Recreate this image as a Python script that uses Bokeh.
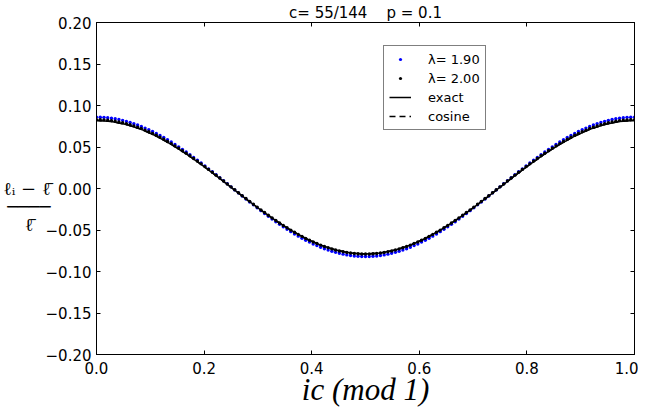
from bokeh.plotting import figure
from bokeh.models import Range1d, LinearAxis, FixedTicker, CustomJSTickFormatter
from bokeh.embed import file_html
from bokeh.resources import INLINE

# ---------------- data ----------------
c_num, c_den = 55, 144
x_dots = [k / c_den for k in range(c_den + 1)]

lam_190 = [0.0860, 0.0859, 0.0857, 0.0853, 0.0847, 0.0840, 0.0831, 0.0821, 0.0809, 0.0796,
           0.0781, 0.0765, 0.0748, 0.0728, 0.0708, 0.0686, 0.0664, 0.0639, 0.0614, 0.0588,
           0.0560, 0.0531, 0.0502, 0.0471, 0.0440, 0.0408, 0.0375, 0.0342, 0.0307, 0.0273,
           0.0237, 0.0202, 0.0166, 0.0130, 0.0093, 0.0057, 0.0020,
           -0.0017, -0.0053, -0.0090, -0.0126, -0.0162, -0.0197, -0.0233, -0.0267, -0.0302, -0.0335,
           -0.0368, -0.0400, -0.0431, -0.0462, -0.0491, -0.0520, -0.0548, -0.0574, -0.0599, -0.0624,
           -0.0646, -0.0668, -0.0688, -0.0708, -0.0725, -0.0741, -0.0756, -0.0769, -0.0781, -0.0791,
           -0.0800, -0.0807, -0.0813, -0.0817, -0.0819, -0.0820,
           -0.0819, -0.0817, -0.0813, -0.0807, -0.0800, -0.0791, -0.0781, -0.0769, -0.0756, -0.0741,
           -0.0725, -0.0708, -0.0688, -0.0668, -0.0646, -0.0624, -0.0599, -0.0574, -0.0548, -0.0520,
           -0.0491, -0.0462, -0.0431, -0.0400, -0.0368, -0.0335, -0.0302, -0.0267, -0.0233, -0.0197,
           -0.0162, -0.0126, -0.0090, -0.0053, -0.0017, 0.0020,
           0.0057, 0.0093, 0.0130, 0.0166, 0.0202, 0.0237, 0.0273, 0.0307, 0.0342, 0.0375,
           0.0408, 0.0440, 0.0471, 0.0502, 0.0531, 0.0560, 0.0588, 0.0614, 0.0639, 0.0664,
           0.0686, 0.0708, 0.0728, 0.0748, 0.0765, 0.0781, 0.0796, 0.0809, 0.0821, 0.0831,
           0.0840, 0.0847, 0.0853, 0.0857, 0.0859, 0.0860]

lam_200 = [0.0830, 0.0829, 0.0827, 0.0823, 0.0818, 0.0811, 0.0802, 0.0793, 0.0781, 0.0768,
           0.0754, 0.0739, 0.0722, 0.0703, 0.0684, 0.0663, 0.0641, 0.0617, 0.0593, 0.0567,
           0.0541, 0.0513, 0.0485, 0.0455, 0.0425, 0.0394, 0.0362, 0.0330, 0.0297, 0.0264,
           0.0230, 0.0195, 0.0161, 0.0126, 0.0091, 0.0055, 0.0020,
           -0.0015, -0.0051, -0.0086, -0.0121, -0.0155, -0.0190, -0.0224, -0.0257, -0.0290, -0.0322,
           -0.0354, -0.0385, -0.0415, -0.0445, -0.0473, -0.0501, -0.0527, -0.0553, -0.0577, -0.0601,
           -0.0623, -0.0644, -0.0663, -0.0682, -0.0699, -0.0714, -0.0728, -0.0741, -0.0753, -0.0762,
           -0.0771, -0.0778, -0.0783, -0.0787, -0.0789, -0.0790,
           -0.0789, -0.0787, -0.0783, -0.0778, -0.0771, -0.0762, -0.0753, -0.0741, -0.0728, -0.0714,
           -0.0699, -0.0682, -0.0663, -0.0644, -0.0623, -0.0601, -0.0577, -0.0553, -0.0527, -0.0501,
           -0.0473, -0.0445, -0.0415, -0.0385, -0.0354, -0.0322, -0.0290, -0.0257, -0.0224, -0.0190,
           -0.0155, -0.0121, -0.0086, -0.0051, -0.0015, 0.0020,
           0.0055, 0.0091, 0.0126, 0.0161, 0.0195, 0.0230, 0.0264, 0.0297, 0.0330, 0.0362,
           0.0394, 0.0425, 0.0455, 0.0485, 0.0513, 0.0541, 0.0567, 0.0593, 0.0617, 0.0641,
           0.0663, 0.0684, 0.0703, 0.0722, 0.0739, 0.0754, 0.0768, 0.0781, 0.0793, 0.0802,
           0.0811, 0.0818, 0.0823, 0.0827, 0.0829, 0.0830]

x_line = [j / 36 for j in range(37)]
exact = [0.0820, 0.0808, 0.0771, 0.0712, 0.0632, 0.0532, 0.0418, 0.0290, 0.0155, 0.0015,
         -0.0125, -0.0260, -0.0388, -0.0502, -0.0602, -0.0682, -0.0741, -0.0778, -0.0790,
         -0.0778, -0.0741, -0.0682, -0.0602, -0.0502, -0.0388, -0.0260, -0.0125, 0.0015,
         0.0155, 0.0290, 0.0418, 0.0532, 0.0632, 0.0712, 0.0771, 0.0808, 0.0820]
cosine = [0.0820, 0.0808, 0.0771, 0.0712, 0.0632, 0.0532, 0.0418, 0.0290, 0.0155, 0.0015,
          -0.0125, -0.0260, -0.0388, -0.0502, -0.0602, -0.0682, -0.0741, -0.0778, -0.0790,
          -0.0778, -0.0741, -0.0682, -0.0602, -0.0502, -0.0388, -0.0260, -0.0125, 0.0015,
          0.0155, 0.0290, 0.0418, 0.0532, 0.0632, 0.0712, 0.0771, 0.0808, 0.0820]

x_ticks = [0.0, 0.2, 0.4, 0.6, 0.8, 1.0]
y_ticks = [-0.20, -0.15, -0.10, -0.05, 0.00, 0.05, 0.10, 0.15, 0.20]

NB = "\u00a0"
title_text = "c= %d/%d" % (c_num, c_den) + NB * 4 + "p" + NB + "=" + NB + "0.1"
legend_labels = ["\u03bb= 1.90", "\u03bb= 2.00", "exact", "cosine"]
x_title = "ic (mod 1)"
y_title = (NB + "\n" + NB + "\n\u2113\u1d62 \u2212 \u2113\u0304\n"
           "\u2500\u2500\u2500\u2500\n\u2113\u0304" + NB * 3)

# ---------------- figure ----------------
p = figure(width=638, height=409, output_backend="svg", toolbar_location=None,
           x_range=Range1d(0, 1), y_range=Range1d(-0.2, 0.2),
           min_border_left=88, min_border_right=4, min_border_top=0, min_border_bottom=0)
p.xgrid.visible = False
p.ygrid.visible = False
p.outline_line_color = "black"
p.outline_line_width = 1
p.background_fill_color = "white"

p.scatter(x_dots, lam_190, size=3.4, marker="circle", color="#0000ff", line_color=None,
          legend_label=legend_labels[0])
p.scatter(x_dots, lam_200, size=3.4, marker="circle", color="black", line_color=None,
          legend_label=legend_labels[1])
p.line(x_line, exact, line_color="black", line_width=1.5, legend_label=legend_labels[2])
p.line(x_line, cosine, line_color="black", line_width=1.5, line_dash="6 4",
       legend_label=legend_labels[3])

tick_font = "DejaVu Sans"


def style_axis(ax):
    ax.axis_line_color = "black"
    ax.axis_line_width = 1
    ax.major_tick_in = 4
    ax.major_tick_out = 0
    ax.minor_tick_in = 0
    ax.minor_tick_out = 0
    ax.major_tick_line_color = "black"
    ax.major_label_text_font = tick_font
    ax.major_label_text_font_size = "15px"
    ax.major_label_text_color = "black"


xa = p.xaxis[0]
xa.ticker = FixedTicker(ticks=x_ticks)
xa.formatter = CustomJSTickFormatter(code="return tick.toFixed(1).replace('-', '\u2212');")
xa.major_label_standoff = 7
style_axis(xa)
xa.axis_label = x_title
xa.axis_label_text_font = "Liberation Serif"
xa.axis_label_text_font_style = "italic"
xa.axis_label_text_font_size = "31px"
xa.axis_label_text_color = "black"
xa.axis_label_standoff = -5

ya = p.yaxis[0]
ya.ticker = FixedTicker(ticks=y_ticks)
ya.formatter = CustomJSTickFormatter(code="return tick.toFixed(2).replace('-', '\u2212');")
ya.major_label_standoff = 5
style_axis(ya)
ya.axis_label = y_title
ya.axis_label_text_font = "DejaVu Serif"
ya.axis_label_text_font_style = "normal"
ya.axis_label_text_font_size = "18px"
ya.axis_label_text_color = "black"
ya.axis_label_text_line_height = 0.85
ya.axis_label_standoff = -8
if "axis_label_orientation" in ya.properties():
    ya.axis_label_orientation = "horizontal"

for loc, tk in (("right", y_ticks), ("above", x_ticks)):
    ax = LinearAxis(ticker=FixedTicker(ticks=tk),
                    formatter=CustomJSTickFormatter(code="return '';"))
    style_axis(ax)
    ax.major_label_text_font_size = "0px"
    ax.major_label_standoff = 0
    p.add_layout(ax, loc)

# title
p.title.text = title_text
p.title.align = "center"
p.title.text_font = tick_font
p.title.text_font_size = "15px"
p.title.text_font_style = "normal"
p.title.text_color = "black"
p.title.standoff = 2

# legend
lg = p.legend[0]
lg.location = (287, 224)
lg.border_line_color = "black"
lg.border_line_width = 1
lg.background_fill_color = "white"
lg.background_fill_alpha = 1
lg.label_text_font = tick_font
lg.label_text_font_size = "13px"
lg.label_text_color = "black"
lg.glyph_width = 22
lg.glyph_height = 8
lg.label_height = 16
lg.label_standoff = 17
lg.spacing = 3
lg.padding = 5
lg.margin = 0

open("out.html", "w").write(file_html(p, INLINE))
